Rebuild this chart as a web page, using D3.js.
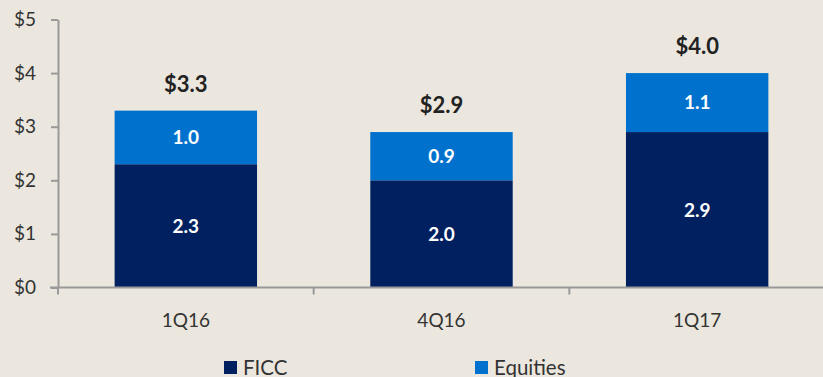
<!DOCTYPE html>
<html>
<head>
<meta charset="utf-8">
<script src="https://cdn.jsdelivr.net/npm/d3@7"></script>
<style>
  html, body { margin: 0; padding: 0; background: #ebe7de; }
  svg { display: block; }
  text { font-family: Lato, "Open Sans", sans-serif; }
</style>
</head>
<body>
<svg id="chart" width="823" height="377"></svg>
<script>
// Quarterly revenue ($B) split by business line
const quarters = ["1Q16", "4Q16", "1Q17"];
const ficc = [2.3, 2.0, 2.9];
const equities = [1.0, 0.9, 1.1];
const totals = [3.3, 2.9, 4.0];
const yTicks = [0, 1, 2, 3, 4, 5];
const seriesNames = ["FICC", "Equities"];
const seriesColors = ["#002060", "#0072ce"];

const svg = d3.select("#chart");
const W = 823, H = 377;
const plotLeft = 58, plotRight = 825, plotTop = 19.5, plotBottom = 287.5;

const x = d3.scaleBand().domain(quarters).range([plotLeft, plotRight]).paddingInner(0.443).paddingOuter(0.2215);
const xOuter = d3.scaleBand().domain(quarters).range([plotLeft, plotRight]);
const y = d3.scaleLinear().domain([0, 5]).range([plotBottom, plotTop]);

const rows = quarters.map((q, i) => ({ q, FICC: ficc[i], Equities: equities[i], total: totals[i] }));
const stacked = d3.stack().keys(seriesNames)(rows);

// Bars
const g = svg.append("g");
stacked.forEach((layer, li) => {
  g.selectAll(null).data(layer).enter().append("rect")
    .attr("x", d => x(d.data.q))
    .attr("width", x.bandwidth())
    .attr("y", d => y(d[1]))
    .attr("height", d => y(d[0]) - y(d[1]))
    .attr("fill", seriesColors[li]);
  // Segment values
  g.selectAll(null).data(layer).enter().append("text")
    .attr("x", d => x(d.data.q) + x.bandwidth() / 2)
    .attr("y", d => (y(d[0]) + y(d[1])) / 2)
    .attr("dy", "0.36em")
    .attr("text-anchor", "middle")
    .attr("fill", "#ffffff")
    .attr("font-weight", "bold")
    .attr("font-size", 19)
    .text(d => d3.format(".1f")(d[1] - d[0]));
});

// Totals above bars
g.selectAll(null).data(rows).enter().append("text")
  .attr("x", d => x(d.q) + x.bandwidth() / 2)
  .attr("y", d => y(d.total) - 27)
  .attr("dy", "0.36em")
  .attr("text-anchor", "middle")
  .attr("fill", "#222")
  .attr("font-weight", "bold")
  .attr("font-size", 22)
  .text(d => "$" + d3.format(".1f")(d.total));

// Y axis
const yAxis = d3.axisLeft(y).tickValues(yTicks).tickFormat(d => "$" + d).tickSize(7).tickSizeOuter(0).tickPadding(15);
const ya = svg.append("g").attr("transform", `translate(${plotLeft},0)`).call(yAxis);
ya.select(".domain").attr("stroke", "#999").attr("stroke-width", 2);
ya.selectAll(".tick line").attr("stroke", "#999").attr("stroke-width", 2);
ya.selectAll(".tick text").attr("fill", "#333").attr("font-size", 19).attr("font-family", "Lato, sans-serif");

// X axis with separators between categories
const xa = svg.append("g").attr("transform", `translate(0,${plotBottom})`);
xa.append("line").attr("x1", plotLeft - 8).attr("x2", W).attr("y1", 0).attr("y2", 0)
  .attr("stroke", "#999").attr("stroke-width", 2);
xa.selectAll(null).data(quarters.slice(1)).enter().append("line")
  .attr("x1", d => xOuter(d)).attr("x2", d => xOuter(d))
  .attr("y1", 0).attr("y2", 7).attr("stroke", "#999").attr("stroke-width", 2);
xa.append("line").attr("x1", plotLeft).attr("x2", plotLeft).attr("y1", 0).attr("y2", 7)
  .attr("stroke", "#999").attr("stroke-width", 2);
xa.selectAll(null).data(quarters).enter().append("text")
  .attr("x", d => x(d) + x.bandwidth() / 2)
  .attr("y", 39)
  .attr("text-anchor", "middle")
  .attr("fill", "#333")
  .attr("font-size", 19)
  .text(d => d);

// Legend
const legendX = [224, 475];
const lg = svg.append("g");
seriesNames.forEach((name, i) => {
  lg.append("rect").attr("x", legendX[i]).attr("y", 361).attr("width", 13).attr("height", 13).attr("fill", seriesColors[i]);
  lg.append("text").attr("x", legendX[i] + 19).attr("y", 375).attr("fill", "#333").attr("font-size", 20.5).text(name);
});
</script>
</body>
</html>
